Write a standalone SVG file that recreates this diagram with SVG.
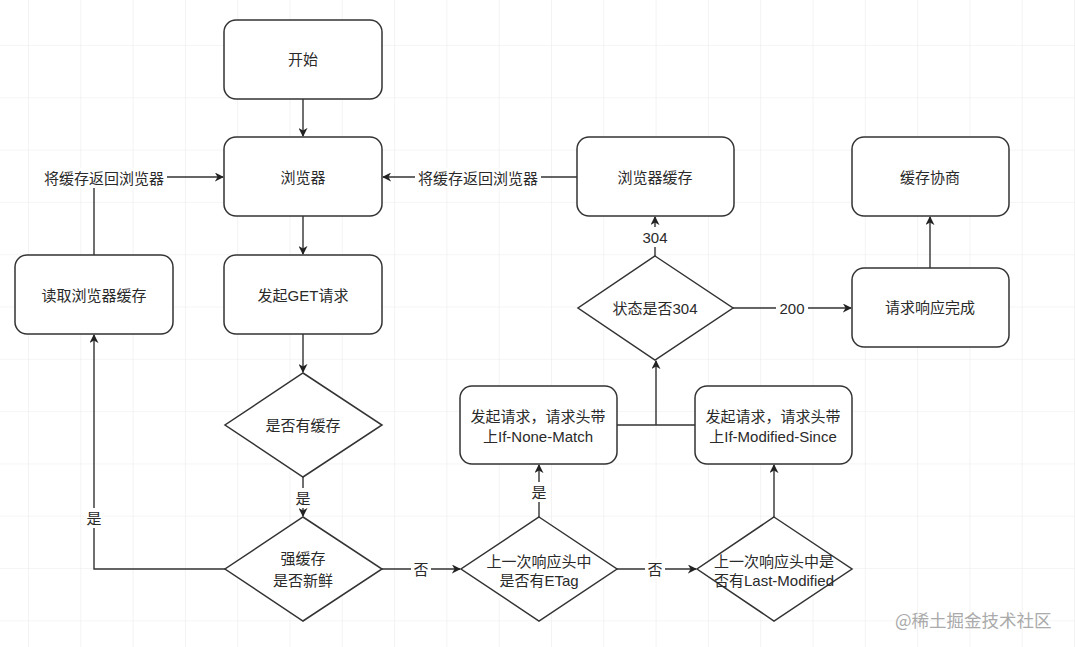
<svg xmlns="http://www.w3.org/2000/svg" width="1075" height="647" viewBox="0 0 1075 647">
<defs>
<pattern id="grid" x="28" y="45" width="52.3" height="52.3" patternUnits="userSpaceOnUse">
<path d="M0 0 H52.3 M0 0 V52.3" fill="none" stroke="#ebebeb" stroke-width="1.2"/>
</pattern>
<marker id="arr" viewBox="0 0 10 10" refX="9" refY="5" markerWidth="9" markerHeight="9" markerUnits="userSpaceOnUse" orient="auto">
<path d="M0 0 L10 5 L0 10 L3 5 Z" fill="#222"/>
</marker>
<style>
.box{fill:#fff;stroke:#333;stroke-width:1.5}
.t{font-family:"Liberation Sans","Noto Sans CJK SC",sans-serif;font-size:15px;fill:#2a2a2a;text-anchor:middle;dominant-baseline:central}
.e{fill:none;stroke:#333;stroke-width:1.4}
.lbl{font-family:"Liberation Sans","Noto Sans CJK SC",sans-serif;font-size:15px;fill:#2a2a2a;text-anchor:middle;dominant-baseline:central}
.wm{font-family:"Noto Sans CJK SC",sans-serif;font-size:17.5px;fill:#aaa;dominant-baseline:central}
</style>
</defs>
<rect width="1075" height="647" fill="#fff"/>
<rect width="1075" height="647" fill="url(#grid)"/>

<g id="connectors">
<path class="e" d="M303 99 V136" marker-end="url(#arr)"/>
<path class="e" d="M303 216 V254" marker-end="url(#arr)"/>
<path class="e" d="M303 334 V372" marker-end="url(#arr)"/>
<path class="e" d="M303 477 V516" marker-end="url(#arr)"/>
<path class="e" d="M225 569 H94 V335" marker-end="url(#arr)"/>
<path class="e" d="M94 255 V188"/>
<path class="e" d="M166 177 H223" marker-end="url(#arr)"/>
<path class="e" d="M577 177 H383" marker-end="url(#arr)"/>
<path class="e" d="M382 569 H460" marker-end="url(#arr)"/>
<path class="e" d="M617 569 H696" marker-end="url(#arr)"/>
<path class="e" d="M539 517 V465" marker-end="url(#arr)"/>
<path class="e" d="M774 517 V465" marker-end="url(#arr)"/>
<path class="e" d="M617 425 H695 M656 425 V361" marker-end="url(#arr)"/>
<path class="e" d="M655 256 V217" marker-end="url(#arr)"/>
<path class="e" d="M733 308 H851" marker-end="url(#arr)"/>
<path class="e" d="M930 268 V217" marker-end="url(#arr)"/>
<rect x="41" y="168" width="126" height="20" fill="#fff"/>
<text class="lbl" x="104" y="178">将缓存返回浏览器</text>
<rect x="415" y="168" width="126" height="20" fill="#fff"/>
<text class="lbl" x="478" y="178">将缓存返回浏览器</text>
<rect x="293" y="488" width="20" height="20" fill="#fff"/>
<text class="lbl" x="303" y="498">是</text>
<rect x="84" y="508" width="20" height="20" fill="#fff"/>
<text class="lbl" x="94" y="518">是</text>
<rect x="411" y="559" width="20" height="20" fill="#fff"/>
<text class="lbl" x="421" y="569">否</text>
<rect x="645" y="559" width="20" height="20" fill="#fff"/>
<text class="lbl" x="655" y="569">否</text>
<rect x="529" y="482" width="20" height="20" fill="#fff"/>
<text class="lbl" x="539" y="492">是</text>
<rect x="640" y="227" width="30" height="20" fill="#fff"/>
<text class="lbl" x="655" y="237">304</text>
<rect x="776" y="298" width="32" height="20" fill="#fff"/>
<text class="lbl" x="792" y="308">200</text>
</g>

<g id="start"><rect class="box" x="224" y="20" width="158" height="79" rx="12"/><text class="t" x="303" y="59">开始</text></g>
<g id="browser"><rect class="box" x="224" y="137" width="158" height="79" rx="12"/><text class="t" x="303" y="177">浏览器</text></g>
<g id="get"><rect class="box" x="224" y="255" width="158" height="79" rx="12"/><text class="t" x="303" y="295">发起GET请求</text></g>
<g id="read"><rect class="box" x="15" y="255" width="158" height="79" rx="12"/><text class="t" x="94" y="295">读取浏览器缓存</text></g>
<g id="hascache"><path class="box" d="M303 373 L382 425 L303 477 L225 425 Z"/><text class="t" x="303" y="425">是否有缓存</text></g>
<g id="fresh"><path class="box" d="M303 517 L382 569 L303 621 L225 569 Z"/><text class="t" x="303" y="558">强缓存</text><text class="t" x="303" y="580">是否新鲜</text></g>
<g id="etag"><path class="box" d="M539 517 L617 569 L539 621 L461 569 Z"/><text class="t" x="539" y="561">上一次响应头中</text><text class="t" x="539" y="580">是否有ETag</text></g>
<g id="lastmod"><path class="box" d="M774 517 L852 569 L774 621 L697 569 Z"/><text class="t" x="774" y="561">上一次响应头中是</text><text class="t" x="774" y="580">否有Last-Modified</text></g>
<g id="inm"><rect class="box" x="460" y="386" width="157" height="78" rx="12"/><text class="t" x="538" y="416">发起请求，请求头带</text><text class="t" x="538" y="436">上If-None-Match</text></g>
<g id="ims"><rect class="box" x="695" y="386" width="157" height="78" rx="12"/><text class="t" x="773" y="416">发起请求，请求头带</text><text class="t" x="773" y="436">上If-Modified-Since</text></g>
<g id="is304"><path class="box" d="M655 256 L733 308 L655 360 L578 308 Z"/><text class="t" x="655" y="308">状态是否304</text></g>
<g id="bcache"><rect class="box" x="577" y="137" width="157" height="79" rx="12"/><text class="t" x="655" y="177">浏览器缓存</text></g>
<g id="done"><rect class="box" x="852" y="268" width="157" height="79" rx="12"/><text class="t" x="930" y="307">请求响应完成</text></g>
<g id="negotiate"><rect class="box" x="852" y="137" width="157" height="79" rx="12"/><text class="t" x="930" y="177">缓存协商</text></g>
<text class="wm" x="895" y="619">@稀土掘金技术社区</text>
</svg>
